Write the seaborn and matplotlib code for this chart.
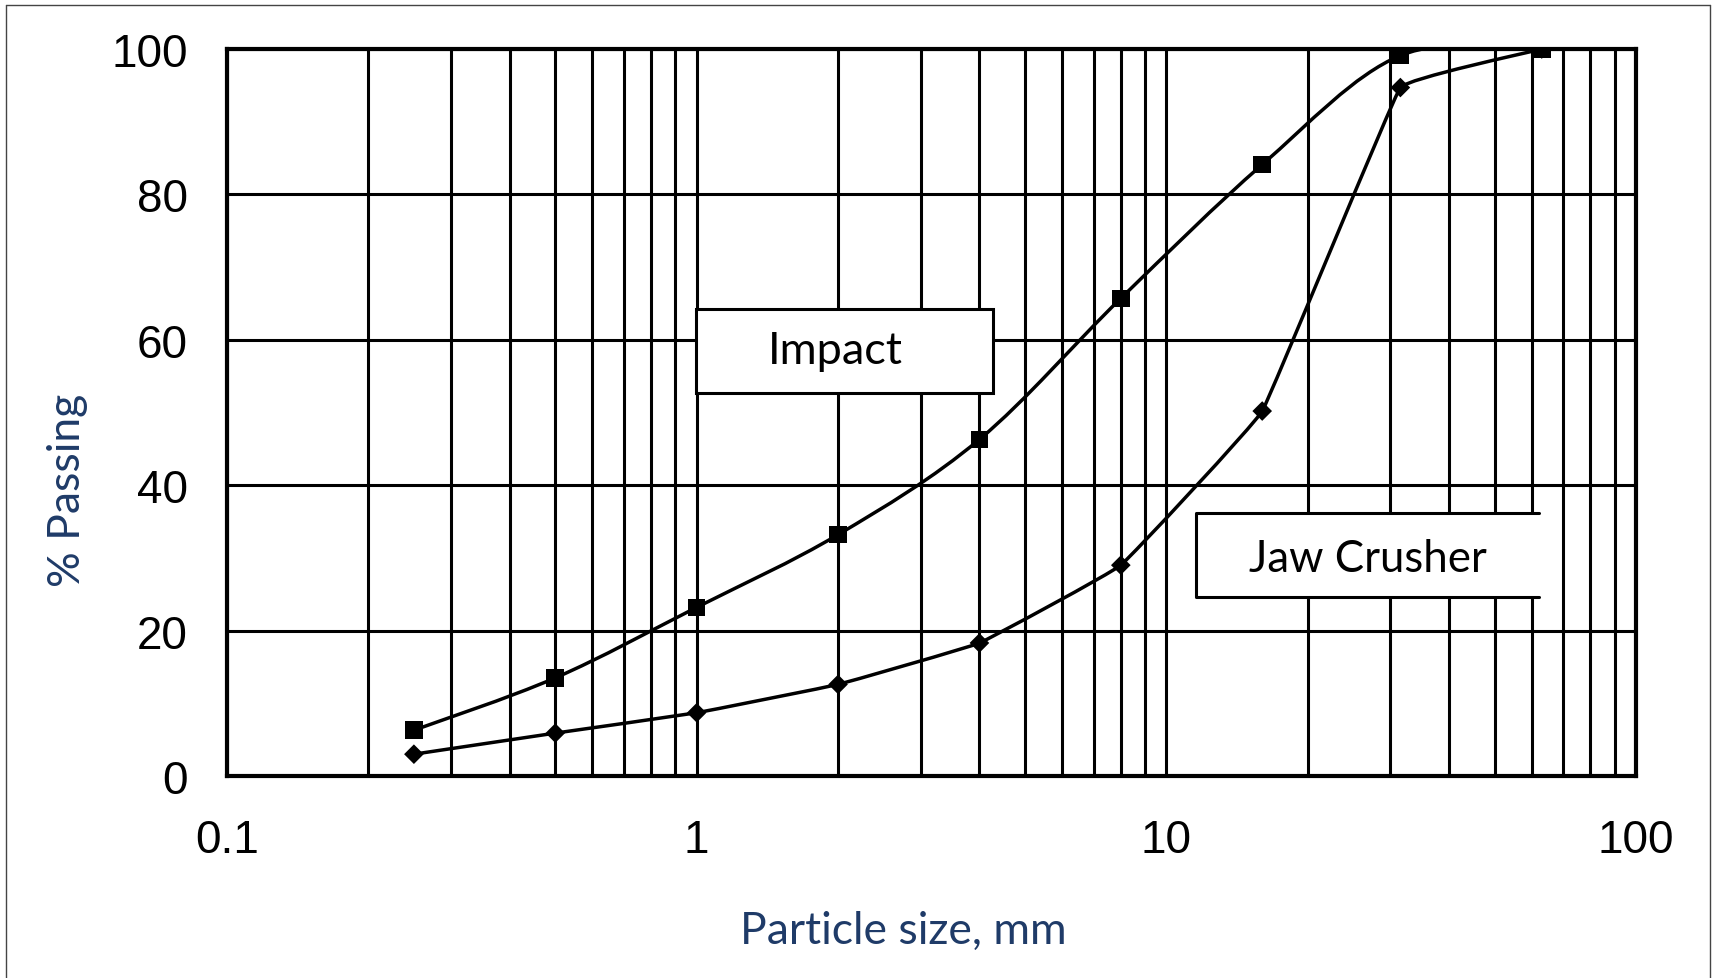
import numpy as np
import pandas as pd
import seaborn as sns
import matplotlib.pyplot as plt
from matplotlib.path import Path
from matplotlib.patches import PathPatch, Rectangle
from matplotlib.lines import Line2D
from matplotlib import ticker

# sieve sizes (mm) and % passing
sizes = [0.25, 0.5, 1, 2, 4, 8, 16, 31.5, 63]
impact = [6.3, 13.5, 23.2, 33.2, 46.3, 65.7, 84.1, 99.1, 100.0]
jaw = [3.0, 5.9, 8.7, 12.6, 18.3, 29.0, 50.2, 94.7, 100.0]
xtick_vals = [0.1, 1, 10, 100]
xtick_labels = ['0.1', '1', '10', '100']
ytick_vals = [0, 20, 40, 60, 80, 100]

df = pd.DataFrame({
    'size': sizes * 2,
    'passing': impact + jaw,
    'series': ['Impact'] * len(sizes) + ['Jaw Crusher'] * len(sizes),
})

sns.set_theme(style='white')
plt.rcParams['font.family'] = ['Liberation Sans', 'DejaVu Sans']

W, H = 1714, 979
fig = plt.figure(figsize=(W / 100, H / 100), dpi=100)
ax = fig.add_axes([227 / W, 1 - 777 / H, (1636 - 227) / W, (777 - 50) / H])
ax.set_xscale('log')
ax.set_xlim(0.1, 100)
ax.set_ylim(0, 100)


def smooth_path(xs, ys, cap=0.5):
    # bezier "smoothed line" as in Excel; control points worked out in display space,
    # cap limits how far a control point may reach relative to the neighbouring segments
    pts = ax.transData.transform(np.column_stack([xs, ys]))
    n = len(pts)
    verts = [pts[0]]
    codes = [Path.MOVETO]
    f = 1 / 6
    seg = [np.hypot(*(pts[i + 1] - pts[i])) for i in range(n - 1)]
    for i in range(n - 1):
        p0 = pts[max(i - 1, 0)]
        p1 = pts[i]
        p2 = pts[i + 1]
        p3 = pts[min(i + 2, n - 1)]
        t1 = (p2 - p0) * f
        t2 = (p3 - p1) * f
        lim1 = cap * min(seg[i], seg[i - 1] if i > 0 else seg[i])
        lim2 = cap * min(seg[i], seg[i + 1] if i + 1 < n - 1 else seg[i])
        if np.hypot(*t1) > lim1:
            t1 = t1 / np.hypot(*t1) * lim1
        if np.hypot(*t2) > lim2:
            t2 = t2 / np.hypot(*t2) * lim2
        verts += [p1 + t1, p2 - t2, p2]
        codes += [Path.CURVE4] * 3
    verts = ax.transData.inverted().transform(np.array(verts))
    return Path(verts, codes)


for vals, cap in [(impact, 0.5), (jaw, 0.08)]:
    ax.add_patch(PathPatch(smooth_path(sizes, vals, cap), facecolor='none',
                           edgecolor='black', lw=2.5, zorder=3))

sns.scatterplot(data=df, x='size', y='passing', hue='series', style='series',
                markers={'Impact': 's', 'Jaw Crusher': 'D'},
                palette={'Impact': 'black', 'Jaw Crusher': 'black'},
                size='series', sizes={'Impact': 160, 'Jaw Crusher': 100},
                edgecolor='black', linewidth=0, legend=False, zorder=4, ax=ax)

ax.set_xticks(xtick_vals)
ax.set_xticklabels(xtick_labels)
ax.set_yticks(ytick_vals)
ax.xaxis.set_minor_locator(ticker.LogLocator(base=10, subs=np.arange(2, 10)))
ax.xaxis.set_minor_formatter(ticker.NullFormatter())
ax.tick_params(axis='both', which='both', length=0, labelsize=33, colors='black')
ax.tick_params(axis='x', pad=30)
ax.tick_params(axis='y', pad=28)
ax.grid(True, which='both', axis='x', color='black', lw=2.2)
ax.grid(True, which='major', axis='y', color='black', lw=2.2)
ax.set_axisbelow(True)
for s in ax.spines.values():
    s.set_color('black')
    s.set_linewidth(3)
    s.set_zorder(5)
ax.set_xlabel('')
ax.set_ylabel('')

# text boxes
ax.add_patch(Rectangle((0.333, 0.527), 0.211, 0.115, transform=ax.transAxes,
                       facecolor='white', edgecolor='black', lw=2.2, zorder=2.5))
ax.text(0.4315, 0.585, 'Impact', transform=ax.transAxes, ha='center', va='center',
        fontsize=32.5, family=['Lato', 'DejaVu Sans'], color='black', zorder=6)
ax.add_patch(Rectangle((0.688, 0.246), 0.243, 0.116, transform=ax.transAxes,
                       facecolor='white', edgecolor='none', zorder=2.5))
ax.add_line(Line2D([0.931, 0.688, 0.688, 0.931], [0.362, 0.362, 0.246, 0.246],
                   transform=ax.transAxes, color='black', lw=2.2, zorder=2.6))
ax.text(0.810, 0.2985, 'Jaw Crusher', transform=ax.transAxes, ha='center', va='center',
        fontsize=31.5, family=['Lato', 'DejaVu Sans'], color='black', zorder=6)

label_color = '#1F3B68'
fig.text(903 / W, 1 - 931 / H, 'Particle size, mm', ha='center', va='center',
         fontsize=32, color=label_color, family=['Lato', 'DejaVu Sans'])
fig.text(68 / W, 1 - 490 / H, '% Passing', ha='center', va='center', rotation=90,
         fontsize=32, color=label_color, family=['Lato', 'DejaVu Sans'])

# outer chart border
for xs, ys in [([5.5 / W, 5.5 / W], [0, 1 - 6 / H]),
               ([5.5 / W, 1710 / W], [1 - 6 / H, 1 - 6 / H]),
               ([1710 / W, 1710 / W], [1 - 6 / H, 0])]:
    fig.add_artist(Line2D(xs, ys, transform=fig.transFigure, color='#444444', lw=1))

fig.savefig('out.png', dpi=100)
